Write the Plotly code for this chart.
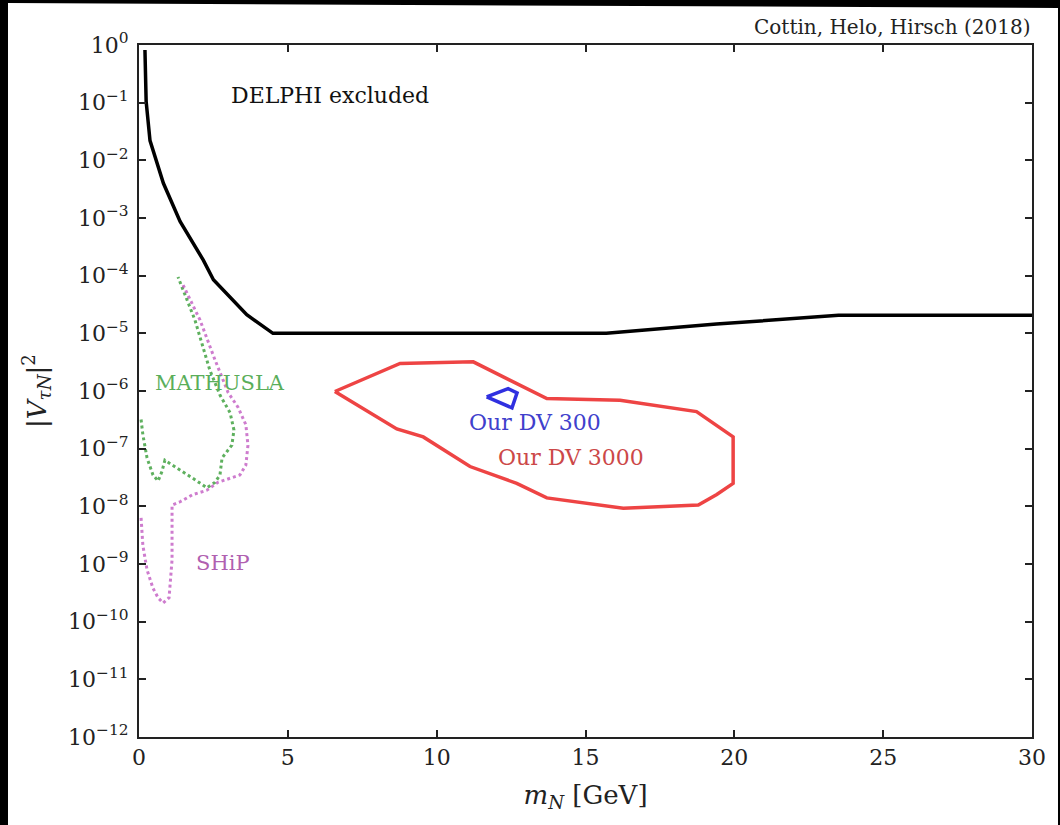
import plotly.graph_objects as go

# ---------------- data ----------------
delphi_mass = [0.2, 0.24, 0.37, 0.82, 1.38, 2.16, 2.50, 3.62, 4.5, 15.7, 19.4, 23.5, 30.0]
delphi_mix = [0.82, 0.105, 0.022, 4.0e-3, 8.7e-4, 1.86e-4, 8.5e-5, 2.1e-5, 1.0e-5, 1.0e-5,
              1.45e-5, 2.05e-5, 2.05e-5]

mathusla_mass = [0.07, 0.13, 0.27, 0.47, 0.64, 0.77, 0.87, 1.38, 1.88, 2.28, 2.55, 2.72, 2.79,
                 3.12, 3.19, 3.06, 2.72, 2.38, 1.88, 1.31]
mathusla_mix = [3.2e-7, 1.74e-7, 6.9e-8, 3.5e-8, 2.75e-8, 4.0e-8, 6.3e-8, 4.3e-8, 2.9e-8, 2.1e-8,
                2.6e-8, 3.5e-8, 6.9e-8, 1.15e-7, 2.1e-7, 4.2e-7, 8.5e-7, 2.3e-6, 1.7e-5, 9.5e-5]

ship_mass = [0.07, 0.13, 0.27, 0.47, 0.64, 0.81, 1.01, 1.11, 1.11, 1.38, 1.81, 2.28, 2.65, 3.06,
             3.39, 3.59, 3.66, 3.59, 3.33, 2.99, 2.55, 2.05, 1.48]
ship_mix = [6.3e-9, 2.1e-9, 7.9e-10, 3.8e-10, 2.6e-10, 2.1e-10, 2.6e-10, 1.17e-9, 1.05e-8, 1.2e-8,
            1.6e-8, 1.9e-8, 2.6e-8, 3.1e-8, 3.5e-8, 5.2e-8, 1.15e-7, 2.6e-7, 5.2e-7, 9.5e-7,
            3.5e-6, 1.7e-5, 6.9e-5]

dv3000_mass = [6.58, 8.77, 11.23, 13.70, 16.16, 18.73, 19.96, 19.96, 19.41, 18.79, 16.27, 13.70,
               12.69, 11.12, 9.55, 8.66, 6.58]
dv3000_mix = [9.8e-7, 3.0e-6, 3.2e-6, 7.4e-7, 6.9e-7, 4.4e-7, 1.6e-7, 2.5e-8, 1.6e-8, 1.05e-8,
              9.3e-9, 1.4e-8, 2.5e-8, 4.9e-8, 1.6e-7, 2.2e-7, 9.8e-7]

dv300_mass = [11.68, 12.40, 12.70, 12.53, 11.68]
dv300_mix = [7.9e-7, 1.1e-6, 9.3e-7, 5.1e-7, 7.9e-7]

x_ticks = [0, 5, 10, 15, 20, 25, 30]
y_exponents = [0, -1, -2, -3, -4, -5, -6, -7, -8, -9, -10, -11, -12]

# ---------------- figure ----------------
SERIF = "DejaVu Serif"
fig = go.Figure()

fig.add_trace(go.Scatter(x=delphi_mass, y=delphi_mix, mode="lines",
                         line=dict(color="black", width=3.5), showlegend=False))
fig.add_trace(go.Scatter(x=mathusla_mass, y=mathusla_mix, mode="lines",
                         line=dict(color="rgba(40,150,40,0.75)", width=3, dash="dot"),
                         showlegend=False))
fig.add_trace(go.Scatter(x=ship_mass, y=ship_mix, mode="lines",
                         line=dict(color="rgba(190,80,190,0.75)", width=3, dash="dot"),
                         showlegend=False))
fig.add_trace(go.Scatter(x=dv3000_mass, y=dv3000_mix, mode="lines",
                         line=dict(color="#ee4444", width=3.5), showlegend=False))
fig.add_trace(go.Scatter(x=dv300_mass, y=dv300_mix, mode="lines",
                         line=dict(color="#3030e0", width=3.5), showlegend=False))

ytext = [("10<sup>0</sup>" if e == 0 else "10<sup>\u2212%d</sup>" % (-e)) for e in y_exponents]

fig.update_xaxes(range=[0, 30], tickvals=x_ticks, ticktext=[str(v) for v in x_ticks],
                 showgrid=False, zeroline=False, showline=True, linecolor="#222",
                 linewidth=2, mirror="ticks", ticks="inside", ticklen=7, tickwidth=1.5,
                 tickcolor="#222", tickfont=dict(family=SERIF, size=22, color="#222"),
                 title=dict(text="<i>m</i><sub><i>N</i></sub> [GeV]",
                            font=dict(family=SERIF, size=26, color="#222"), standoff=16))
fig.update_yaxes(type="log", range=[-12, 0], tickvals=[10.0 ** e for e in y_exponents],
                 ticktext=ytext, showgrid=False, zeroline=False, showline=True,
                 linecolor="#222", linewidth=2, mirror="ticks", ticks="inside", ticklen=7,
                 tickwidth=1.5, tickcolor="#222", ticklabelstandoff=4,
                 tickfont=dict(family=SERIF, size=22, color="#222"),
                 title=dict(text="|<i>V</i><sub><i>\u03c4N</i></sub>|<sup>2</sup>",
                            font=dict(family=SERIF, size=26, color="#222"), standoff=14))

annots = [
    dict(text="DELPHI excluded", x=6.42, y=-0.88, color="#111", size=22),
    dict(text="MATHUSLA", x=2.72, y=-5.86, color="#5aae5a", size=21),
    dict(text="SHiP", x=2.82, y=-8.98, color="#b060b0", size=21),
    dict(text="Our DV 300", x=13.30, y=-6.54, color="#4040cc", size=22),
    dict(text="Our DV 3000", x=14.51, y=-7.16, color="#cc4848", size=22),
]
for a in annots:
    fig.add_annotation(x=a["x"], y=a["y"], xref="x", yref="y", text=a["text"], showarrow=False,
                       font=dict(family=SERIF, size=a["size"], color=a["color"]))

fig.add_annotation(x=1.0, y=1.026, xref="paper", yref="paper", xanchor="right",
                   yanchor="middle", text="Cottin, Helo, Hirsch (2018)", showarrow=False,
                   font=dict(family=SERIF, size=20, color="#222"))

# photo page: black surround, white page drawn beneath the plot
L, T, W, H = 139, 45, 893, 692
def px(v):
    return (v - L) / W
def py(v):
    return (T + H - v) / H
fig.add_shape(type="path", xref="paper", yref="paper",
              path="M %f,%f L %f,%f L %f,%f L %f,%f Z" % (px(8), py(3), px(1058), py(8),
                                                        px(1058), py(830), px(8), py(830)),
              fillcolor="white", line_width=0, layer="below")

fig.update_layout(width=1060, height=825, autosize=False,
                  margin=dict(l=L, r=1060 - L - W, t=T, b=825 - T - H),
                  paper_bgcolor="black", plot_bgcolor="white",
                  font=dict(family=SERIF, color="#222"))

fig.write_html("out.html", config={"displayModeBar": False},
               post_script="document.body.style.margin='0px';document.body.style.overflow='hidden';")
